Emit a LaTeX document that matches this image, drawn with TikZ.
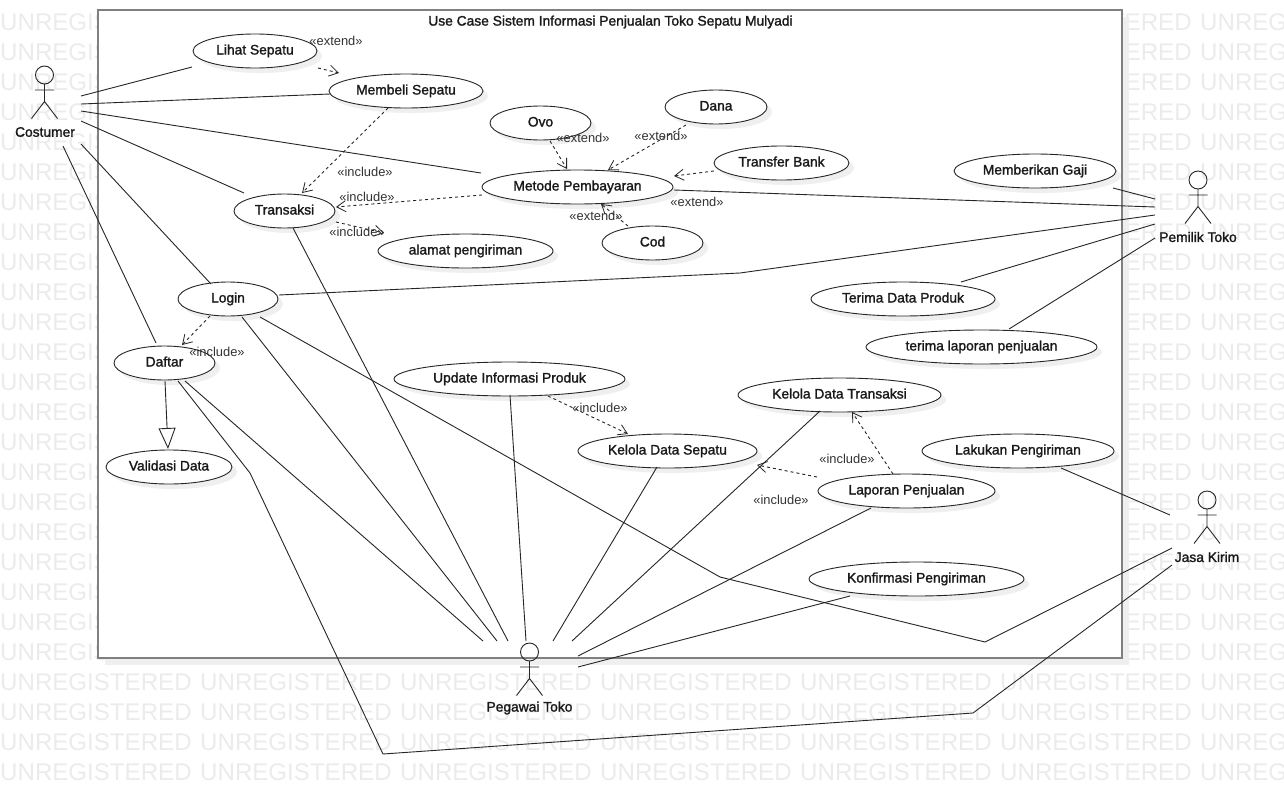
\documentclass[tikz,border=0pt]{standalone}
\usepackage{fontspec}
\setmainfont{Liberation Sans}
\newfontfamily\medfont[FakeBold=1.5]{Liberation Sans}
\usetikzlibrary{shapes.geometric,arrows.meta,shadows}
\definecolor{wmgray}{HTML}{EBEBEB}
\definecolor{framegray}{HTML}{808080}
\definecolor{shadowgray}{HTML}{EFEFEF}
\definecolor{inklabel}{HTML}{333333}
\tikzset{
  x=1pt,y=-1pt,
  usecase/.style={ellipse,draw=black!85,line width=0.9pt,fill=white,inner sep=0pt,minimum height=34pt,
    font=\fontsize{13.8}{15}\medfont,text=black!90,text height=10pt,text depth=3pt,
    drop shadow={shadow xshift=5pt,shadow yshift=-5pt,fill=shadowgray,opacity=1}},
  actorname/.style={inner sep=0pt,font=\fontsize{13.8}{15}\medfont,text=black!90},
  stereo/.style={inner sep=0pt,font=\fontsize{12.9}{15}\selectfont,text=inklabel},
  wm/.style={anchor=west,inner sep=0pt,font=\fontsize{24.1}{26}\selectfont,text=wmgray},
  assoc/.style={draw=black!85,line width=0.9pt},
  dep/.style={draw=black!85,line width=0.9pt,dash pattern=on 3pt off 3pt,-{Straight Barb[length=9pt,width=11pt,line width=0.8pt]}},
  gen/.style={draw=black!85,line width=0.9pt,-{Triangle[open,length=21pt,width=17pt,fill=white]}},
  pics/actorfig/.style={code={
    \draw[line width=0.9pt,draw=black!85] (0,0) circle (9);
    \draw[line width=0.9pt,draw=black!85] (0,9) -- (0,26.5) (-9.5,15) -- (9.5,15) (-13,43.5) -- (0,26.5) -- (13,43.5);
  }}
}
\begin{document}
\begin{tikzpicture}
\useasboundingbox (0,0) rectangle (1284,795);
\begin{scope}
\clip (0,0) rectangle (1284,795);
\foreach \wy in {22,52,...,772}
  \foreach \wx in {0,200,...,1200}
    \node[wm,name=wm\wx x\wy] at (\wx,\wy) {UNREGISTERED};
\end{scope}
% frame
\fill[shadowgray] (105,17) rectangle (1129,665);
\draw[draw=framegray,line width=2pt,fill=white] (98,10) rectangle (1122,658);
\node[name=title,inner sep=0pt,font=\fontsize{13.8}{15}\medfont,text=black!90] at (610.5,22) {Use Case Sistem Informasi Penjualan Toko Sepatu Mulyadi};
% use cases
\node[usecase,minimum width=124pt] (lihat) at (255,51) {Lihat Sepatu};
\node[usecase,minimum width=154pt] (membeli) at (406,91) {Membeli Sepatu};
\node[usecase,minimum width=101pt] (ovo) at (540.5,123) {Ovo};
\node[usecase,minimum width=102pt] (dana) at (716,107) {Dana};
\node[usecase,minimum width=135pt] (transfer) at (781.5,163) {Transfer Bank};
\node[usecase,minimum width=191pt] (metode) at (577.5,187) {Metode Pembayaran};
\node[usecase,minimum width=101pt] (cod) at (652.5,243) {Cod};
\node[usecase,minimum width=101pt] (transaksi) at (284.5,211) {Transaksi};
\node[usecase,minimum width=175pt] (alamat) at (465.5,251) {alamat pengiriman};
\node[usecase,minimum width=100pt] (login) at (228,299) {Login};
\node[usecase,minimum width=101pt] (daftar) at (164.5,363) {Daftar};
\node[usecase,minimum width=126pt] (validasi) at (169,467) {Validasi Data};
\node[usecase,minimum width=231pt] (update) at (509.5,379) {Update Informasi Produk};
\node[usecase,minimum width=179pt] (ksepatu) at (667.5,451) {Kelola Data Sepatu};
\node[usecase,minimum width=203pt] (ktrans) at (839.5,395) {Kelola Data Transaksi};
\node[usecase,minimum width=192pt] (lakukan) at (1018,451) {Lakukan Pengiriman};
\node[usecase,minimum width=177pt] (laporan) at (906.5,491) {Laporan Penjualan};
\node[usecase,minimum width=215pt] (konfirmasi) at (916.5,579) {Konfirmasi Pengiriman};
\node[usecase,minimum width=162pt] (gaji) at (1035,171) {Memberikan Gaji};
\node[usecase,minimum width=184pt] (terimadata) at (903,299) {Terima Data Produk};
\node[usecase,minimum width=231pt] (terimalap) at (981.5,347) {terima laporan penjualan};
% actors
\node[actorname] (costumer) at (45,132) {Costumer};
\node[actorname] (pegawai) at (529.5,708) {Pegawai Toko};
\node[actorname] (pemilik) at (1198,237) {Pemilik Toko};
\node[actorname] (jasa) at (1207,557) {Jasa Kirim};
\pic at (44.5,75) {actorfig};
\pic at (529.5,652) {actorfig};
\pic at (1198,180) {actorfig};
\pic at (1207,500) {actorfig};
% bends
\coordinate (bendA) at (250,473);
\coordinate (bendB) at (383,754);
\coordinate (bendC) at (973,713);
\coordinate (bendD) at (720,577);
\coordinate (bendE) at (985,642);
\coordinate (bendF) at (740,273);
% associations
\draw[assoc] ([shift={(36,-36)}]costumer.center) -- ([shift={(-63,16)}]lihat.center);
\draw[assoc] ([shift={(36,-28)}]costumer.center) -- ([shift={(-76,3)}]membeli.center);
\draw[assoc] ([shift={(36,-21)}]costumer.center) -- ([shift={(-96.5,-14)}]metode.center);
\draw[assoc] ([shift={(36,-11)}]costumer.center) -- ([shift={(-40.5,-18)}]transaksi.center);
\draw[assoc] ([shift={(36,12)}]costumer.center) -- ([shift={(-17,-15)}]login.center);
\draw[assoc] ([shift={(18,14)}]costumer.center) -- ([shift={(-8.5,-20)}]daftar.center);
\draw[assoc] ([shift={(20.5,18)}]daftar.center) -- ([shift={(-46.5,-67)}]pegawai.center);
\draw[assoc] ([shift={(14,18)}]login.center) -- ([shift={(-32.5,-67)}]pegawai.center);
\draw[assoc] ([shift={(8.5,17)}]transaksi.center) -- ([shift={(-21.5,-67)}]pegawai.center);
\draw[assoc] ([shift={(0.5,16)}]update.center) -- ([shift={(-3.5,-67)}]pegawai.center);
\draw[assoc] ([shift={(-10.5,16)}]ksepatu.center) -- ([shift={(23.5,-67)}]pegawai.center);
\draw[assoc] ([shift={(-19.5,16)}]ktrans.center) -- ([shift={(42.5,-67)}]pegawai.center);
\draw[assoc] ([shift={(-35.5,17)}]laporan.center) -- ([shift={(48.5,-52)}]pegawai.center);
\draw[assoc] ([shift={(-66.5,17)}]konfirmasi.center) -- ([shift={(48.5,-41)}]pegawai.center);
\draw[assoc] ([shift={(13.5,18)}]daftar.center) -- (bendA) -- (bendB) -- (bendC) -- ([shift={(-35,8)}]jasa.center);
\draw[assoc] ([shift={(32,18)}]login.center) -- (bendD) -- (bendE) -- ([shift={(-35,-9)}]jasa.center);
\draw[assoc] ([shift={(51,-4)}]login.center) -- (bendF) -- ([shift={(-43,-22)}]pemilik.center);
\draw[assoc] ([shift={(96.5,3)}]metode.center) -- ([shift={(-43,-30)}]pemilik.center);
\draw[assoc] ([shift={(78,17)}]gaji.center) -- ([shift={(-43,-38)}]pemilik.center);
\draw[assoc] ([shift={(58,-17)}]terimadata.center) -- ([shift={(-43,-13)}]pemilik.center);
\draw[assoc] ([shift={(27.5,-18)}]terimalap.center) -- ([shift={(-43,1)}]pemilik.center);
\draw[assoc] ([shift={(43,17)}]lakukan.center) -- ([shift={(-37,-42)}]jasa.center);
% dependencies
\draw[dep] ([shift={(63,17)}]lihat.center) -- ([shift={(-67,-18)}]membeli.center);
\draw[dep] ([shift={(-18,17)}]membeli.center) -- ([shift={(17.5,-18)}]transaksi.center);
\draw[dep] ([shift={(-95.5,8)}]metode.center) -- ([shift={(51.5,-4)}]transaksi.center);
\draw[dep] ([shift={(51.5,11)}]transaksi.center) -- ([shift={(-81.5,-18)}]alamat.center);
\draw[dep] ([shift={(9.5,18)}]ovo.center) -- ([shift={(-10.5,-18)}]metode.center);
\draw[dep] ([shift={(-30,18)}]dana.center) -- ([shift={(30.5,-17)}]metode.center);
\draw[dep] ([shift={(-67.5,8)}]transfer.center) -- ([shift={(96.5,-11)}]metode.center);
\draw[dep] ([shift={(-24.5,-17)}]cod.center) -- ([shift={(23.5,17)}]metode.center);
\draw[dep] ([shift={(-18,17)}]login.center) -- ([shift={(17.5,-18)}]daftar.center);
\draw[dep] ([shift={(38.5,17)}]update.center) -- ([shift={(-39.5,-17)}]ksepatu.center);
\draw[dep] ([shift={(-89.5,-14)}]laporan.center) -- ([shift={(89.5,14)}]ksepatu.center);
\draw[dep] ([shift={(-13.5,-17)}]laporan.center) -- ([shift={(12.5,17)}]ktrans.center);
\draw[gen] ([shift={(0.5,18)}]daftar.center) -- ([shift={(-1,-18)}]validasi.center);
% stereotype labels
\node[stereo,name=s1] at (336,41) {«extend»};
\node[stereo,name=s2] at (583,138) {«extend»};
\node[stereo,name=s3] at (661,136) {«extend»};
\node[stereo,name=s4] at (697,202) {«extend»};
\node[stereo,name=s5] at (596,216) {«extend»};
\node[stereo,name=s6] at (365,172) {«include»};
\node[stereo,name=s7] at (367,197) {«include»};
\node[stereo,name=s8] at (357,232) {«include»};
\node[stereo,name=s9] at (217,352) {«include»};
\node[stereo,name=s10] at (600,408) {«include»};
\node[stereo,name=s11] at (847,459) {«include»};
\node[stereo,name=s12] at (781,500) {«include»};
\end{tikzpicture}
\end{document}
